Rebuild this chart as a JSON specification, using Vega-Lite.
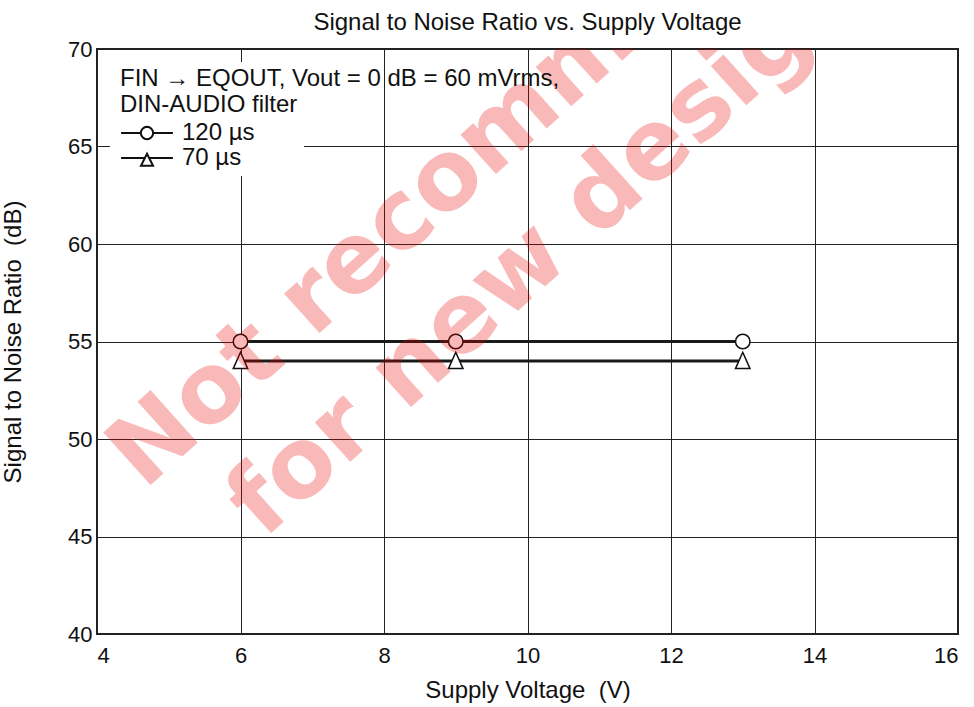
{
  "$schema": "https://vega.github.io/schema/vega-lite/v6.json",
  "width": 861,
  "height": 585,
  "autosize": {"type": "none"},
  "padding": {"left": 97, "top": 49, "right": 16, "bottom": 73},
  "background": "white",
  "title": {"text": "Signal to Noise Ratio vs. Supply Voltage", "fontSize": 24, "fontWeight": "normal", "color": "#111", "offset": 3, "anchor": "middle", "font": "Liberation Sans"},
  "config": {
    "font": "Liberation Sans",
    "view": {"stroke": "#222", "strokeWidth": 2},
    "axis": {"domain": false, "ticks": false, "tickSize": 0, "grid": true, "gridColor": "#222", "gridOpacity": 1, "gridWidth": 1, "labelFontSize": 22, "labelColor": "#111", "titleFontSize": 24, "titleFontWeight": "normal", "titleColor": "#111", "labelFont": "Liberation Sans", "titleFont": "Liberation Sans", "format": "d"},
    "axisX": {"labelPadding": 11, "titlePadding": 12},
    "axisY": {"labelPadding": 5, "titlePadding": 42}
  },
  "resolve": {"scale": {"shape": "independent"}},
  "layer": [
    {
      "data": {"values": [{}]},
      "mark": {"type": "rect", "fill": "white"},
      "encoding": {
        "x": {"datum": 4.18, "type": "quantitative", "scale": {"domain": [4, 16], "nice": false, "zero": false}, "title": "Supply Voltage\u00a0 (V)"},
        "x2": {"datum": 6.885},
        "y": {"datum": 69.33, "type": "quantitative", "scale": {"domain": [40, 70], "nice": false, "zero": false}, "title": "Signal to Noise Ratio\u00a0 (dB)"},
        "y2": {"datum": 63.49}
      }
    },
    {
      "data": {"values": [
        {"series": "120 µs", "voltage": 6, "snr": 55},
        {"series": "120 µs", "voltage": 9, "snr": 55},
        {"series": "120 µs", "voltage": 13, "snr": 55},
        {"series": "70 µs", "voltage": 6, "snr": 54},
        {"series": "70 µs", "voltage": 9, "snr": 54},
        {"series": "70 µs", "voltage": 13, "snr": 54}
      ]},
      "layer": [
        {
          "mark": {"type": "line", "stroke": "#1a1a1a", "strokeWidth": 3},
          "encoding": {
            "x": {"field": "voltage", "type": "quantitative", "scale": {"domain": [4, 16], "nice": false, "zero": false}, "axis": {"values": [4, 6, 8, 10, 12, 14, 16]}, "title": "Supply Voltage\u00a0 (V)"},
            "y": {"field": "snr", "type": "quantitative", "scale": {"domain": [40, 70], "nice": false, "zero": false}, "axis": {"values": [40, 45, 50, 55, 60, 65, 70]}, "title": "Signal to Noise Ratio\u00a0 (dB)"},
            "detail": {"field": "series"}
          }
        },
        {
          "mark": {"type": "point", "filled": true, "fill": "white", "stroke": "#111", "strokeWidth": 1.5, "size": 210, "opacity": 1},
          "encoding": {
            "x": {"field": "voltage", "type": "quantitative", "title": "Supply Voltage\u00a0 (V)"},
            "y": {"field": "snr", "type": "quantitative", "title": "Signal to Noise Ratio\u00a0 (dB)"},
            "shape": {
              "field": "series",
              "type": "nominal",
              "scale": {"domain": ["120 µs", "70 µs"], "range": ["circle", "M0,-1.2L1,1.05L-1,1.05Z"]},
              "legend": null
            }
          }
        }
      ]
    },
    {
      "data": {"values": [
        {"series": "120 µs", "voltage": 6, "snr": 55},
        {"series": "70 µs", "voltage": 6, "snr": 54}
      ]},
      "transform": [{"filter": "datum.snr > 100"}],
      "mark": {"type": "point", "filled": false, "color": "#111", "strokeWidth": 2, "size": 196, "opacity": 1},
      "encoding": {
        "x": {"field": "voltage", "type": "quantitative", "title": "Supply Voltage\u00a0 (V)"},
        "y": {"field": "snr", "type": "quantitative", "title": "Signal to Noise Ratio\u00a0 (dB)"},
        "shape": {
          "field": "series",
          "type": "nominal",
          "scale": {"domain": ["120 µs", "70 µs"], "range": ["M-3.7,0L-0.88,0M0.88,0L3.7,0M0.88,0L0.813,0.337L0.622,0.622L0.337,0.813L0,0.88L-0.337,0.813L-0.622,0.622L-0.813,0.337L-0.88,0L-0.813,-0.337L-0.622,-0.622L-0.337,-0.813L0,-0.88L0.337,-0.813L0.622,-0.622L0.813,-0.337Z", "M-3.7,0L-0.29,0M0.29,0L3.7,0M0,-0.6L0.86,1.1L-0.86,1.1Z"]},
          "legend": {
            "orient": "none",
            "legendX": 23,
            "legendY": 18,
            "padding": 0,
            "title": ["FIN → EQOUT, Vout = 0 dB = 60 mVrms,", "DIN-AUDIO filter"],
            "titleFontSize": 24,
            "titleFontWeight": "normal",
            "titleFont": "Liberation Sans",
            "titleColor": "#111",
            "titleLimit": 1000,
            "titleLineHeight": 26,
            "titlePadding": 4,
            "labelFontSize": 24,
            "labelFont": "Liberation Sans",
            "labelColor": "#111",
            "labelLimit": 500,
            "labelOffset": 23,
            "symbolOffset": 15,
            "rowPadding": 1,
            "symbolSize": 196,
            "symbolStrokeWidth": 2,
            "symbolStrokeColor": "#111",
            "symbolOpacity": 1
          }
        }
      }
    },
    {
      "data": {"values": [{}]},
      "mark": {"type": "text", "text": "Not recommended", "font": "DejaVu Sans", "fontWeight": "bold", "fontSize": 97, "angle": -42, "align": "left", "baseline": "alphabetic", "fill": "#ee0000", "opacity": 0.27, "clip": true},
      "encoding": {
        "x": {"datum": 4.655, "type": "quantitative", "title": "Supply Voltage\u00a0 (V)"},
        "y": {"datum": 47.33, "type": "quantitative", "title": "Signal to Noise Ratio\u00a0 (dB)"}
      }
    },
    {
      "data": {"values": [{}]},
      "mark": {"type": "text", "text": "for new design", "font": "DejaVu Sans", "fontWeight": "bold", "fontSize": 97, "angle": -42, "align": "left", "baseline": "alphabetic", "fill": "#ee0000", "opacity": 0.27, "clip": true},
      "encoding": {
        "x": {"datum": 6.32, "type": "quantitative", "title": "Supply Voltage\u00a0 (V)"},
        "y": {"datum": 44.82, "type": "quantitative", "title": "Signal to Noise Ratio\u00a0 (dB)"}
      }
    }
  ]
}
